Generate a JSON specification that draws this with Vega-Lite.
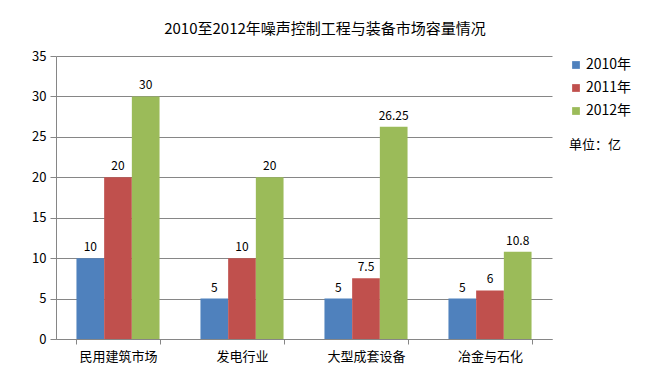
{
  "$schema": "https://vega.github.io/schema/vega-lite/v6.json",
  "width": 496,
  "height": 283,
  "autosize": "none",
  "padding": {"left": 56, "top": 56, "right": 99, "bottom": 43},
  "background": "white",
  "title": {
    "text": "2010至2012年噪声控制工程与装备市场容量情况",
    "font": "Noto Sans CJK SC",
    "fontSize": 15,
    "fontWeight": "normal",
    "color": "#000000",
    "anchor": "middle",
    "dx": 21,
    "offset": 13
  },
  "config": {
    "view": {"stroke": null},
    "font": "Noto Sans CJK SC"
  },
  "data": {
    "values": [
      {"category": "民用建筑市场", "year": "2010年", "value": 10, "label": "10"},
      {"category": "民用建筑市场", "year": "2011年", "value": 20, "label": "20"},
      {"category": "民用建筑市场", "year": "2012年", "value": 30, "label": "30"},
      {"category": "发电行业", "year": "2010年", "value": 5, "label": "5"},
      {"category": "发电行业", "year": "2011年", "value": 10, "label": "10"},
      {"category": "发电行业", "year": "2012年", "value": 20, "label": "20"},
      {"category": "大型成套设备", "year": "2010年", "value": 5, "label": "5"},
      {"category": "大型成套设备", "year": "2011年", "value": 7.5, "label": "7.5"},
      {"category": "大型成套设备", "year": "2012年", "value": 26.25, "label": "26.25"},
      {"category": "冶金与石化", "year": "2010年", "value": 5, "label": "5"},
      {"category": "冶金与石化", "year": "2011年", "value": 6, "label": "6"},
      {"category": "冶金与石化", "year": "2012年", "value": 10.8, "label": "10.8"}
    ]
  },
  "encoding": {
    "x": {
      "field": "category",
      "type": "nominal",
      "sort": ["民用建筑市场", "发电行业", "大型成套设备", "冶金与石化"],
      "scale": {"paddingInner": 0.33, "paddingOuter": 0.165},
      "axis": {
        "title": null,
        "labelAngle": 0,
        "labelFontSize": 13,
        "labelColor": "#000000",
        "labelPadding": 6,
        "tickBand": "extent",
        "tickSize": 5,
        "tickColor": "#868686",
        "domainColor": "#868686",
        "grid": false
      }
    },
    "xOffset": {
      "field": "year",
      "type": "nominal",
      "sort": ["2010年", "2011年", "2012年"]
    },
    "y": {
      "field": "value",
      "type": "quantitative",
      "scale": {"domain": [0, 35], "nice": false},
      "axis": {
        "title": null,
        "values": [0, 5, 10, 15, 20, 25, 30, 35],
        "labelFontSize": 13,
        "labelColor": "#000000",
        "labelPadding": 4,
        "tickSize": 6,
        "tickColor": "#868686",
        "domainColor": "#868686",
        "gridColor": "#868686",
        "gridOpacity": 1
      }
    }
  },
  "layer": [
    {
      "mark": {"type": "bar"},
      "encoding": {
        "color": {
          "field": "year",
          "type": "nominal",
          "sort": ["2010年", "2011年", "2012年"],
          "scale": {"range": ["#4F81BD", "#C0504D", "#9BBB59"]},
          "legend": {
            "title": "单位：亿",
            "titleOrient": "bottom",
            "titleFontSize": 13,
            "titleFontWeight": "normal",
            "titleColor": "#000000",
            "titlePadding": 21,
            "orient": "none",
            "legendX": 513,
            "legendY": 2,
            "symbolType": "square",
            "symbolSize": 60,
            "symbolStrokeWidth": 0,
            "labelFontSize": 14,
            "labelColor": "#000000",
            "labelOffset": 3,
            "rowPadding": 9
          }
        }
      }
    },
    {
      "mark": {"type": "text", "dy": -11, "fontSize": 12, "color": "#000000"},
      "encoding": {
        "text": {"field": "label", "type": "nominal"}
      }
    }
  ]
}
